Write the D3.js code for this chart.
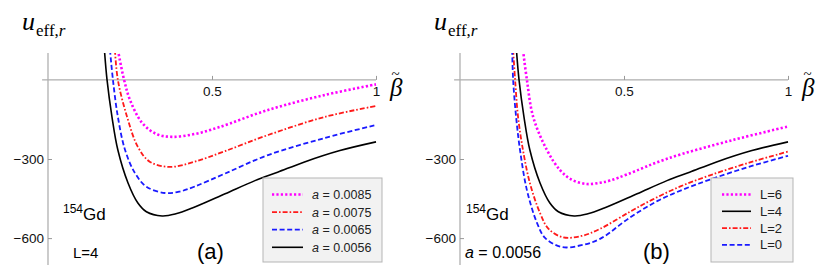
<html>
<head>
<script src="https://d3js.org/d3.v7.min.js"></script>
<style>
  body { margin: 0; background: #fff; }
  text { font-family: "Liberation Sans", Arial, sans-serif; }
  text.serif { font-family: "Liberation Serif", "Times New Roman", serif; }
</style>
</head>
<body>
<script>
// tick values
const xTicks = [0.5, 1];
const yTicks = [-300, -600];

// panel (a): L=4, different a values   [beta, u]
const aCurve0085 = [[0.213,114],[0.232,0],[0.25,-76],[0.287,-163],[0.33,-205],[0.378,-216],[0.448,-205],[0.52,-180],[0.671,-114],[0.845,-57],[1.0,-17]];
const aCurve0075 = [[0.204,114],[0.213,0],[0.241,-140],[0.274,-254],[0.31,-310],[0.372,-330],[0.448,-310],[0.54,-270],[0.671,-209],[0.845,-140],[1.0,-99]];
const aCurve0065 = [[0.189,114],[0.198,0],[0.213,-140],[0.235,-266],[0.265,-353],[0.30,-405],[0.357,-429],[0.40,-424],[0.448,-404],[0.54,-355],[0.671,-285],[0.845,-220],[1.0,-171]];
const aCurve0056 = [[0.172,114],[0.180,0],[0.195,-140],[0.213,-266],[0.244,-391],[0.274,-467],[0.30,-500],[0.348,-516],[0.39,-508],[0.44,-486],[0.54,-432],[0.631,-382],[0.70,-350],[0.78,-312],[0.89,-268],[1.0,-235]];

// panel (b): a=0.0056, different L
const lCurve6 = [[0.192,114],[0.204,0],[0.223,-140],[0.265,-266],[0.305,-342],[0.34,-378],[0.387,-395],[0.427,-390],[0.457,-382],[0.51,-358],[0.631,-299],[0.832,-228],[1.0,-177]];
const lCurve4 = aCurve0056;
const lCurve2 = [[0.162,114],[0.168,0],[0.177,-140],[0.192,-266],[0.213,-391],[0.244,-505],[0.27,-565],[0.314,-597],[0.37,-592],[0.427,-565],[0.518,-500],[0.585,-455],[0.67,-405],[0.762,-362],[0.884,-313],[1.0,-272]];
const lCurve0 = [[0.159,114],[0.162,0],[0.171,-140],[0.183,-266],[0.204,-418],[0.235,-543],[0.26,-600],[0.311,-634],[0.37,-627],[0.427,-603],[0.518,-522],[0.604,-458],[0.68,-416],[0.762,-378],[0.88,-330],[1.0,-288]];

const aLabels = ["0.0085", "0.0075", "0.0065", "0.0056"];
const lLabels = ["L=6", "L=4", "L=2", "L=0"];

const styles = {
  magenta: { color: "#ff00ff", width: 2.6, dash: "2.2,2.2" },
  red:     { color: "#ff1a1a", width: 1.8, dash: "5,2,1.6,2" },
  blue:    { color: "#1a1aff", width: 1.8, dash: "5,2.6" },
  black:   { color: "#000000", width: 1.6, dash: null }
};

const svg = d3.select("body").append("svg").attr("width", 830).attr("height", 277);

const y = d3.scaleLinear().domain([-702, 102]).range([265, 53]);

function panel(id, left, right, curves, legend, notes) {
  const x = d3.scaleLinear().domain([0, 1]).range([left, right]);
  const g = svg.append("g");

  // clip so the curves stop at the top of the frame
  svg.append("clipPath").attr("id", "clip" + id)
    .append("rect").attr("x", left - 20).attr("y", y.range()[1])
    .attr("width", right - left + 40).attr("height", y.range()[0] - y.range()[1]);

  // axes lines
  g.append("line").attr("x1", x(-0.018)).attr("x2", x(1)).attr("y1", y(0)).attr("y2", y(0))
    .attr("stroke", "#999").attr("stroke-width", 1);
  g.append("line").attr("x1", x(0)).attr("x2", x(0)).attr("y1", y.range()[1]).attr("y2", y.range()[0])
    .attr("stroke", "#b0b0b0").attr("stroke-width", 1.3);

  const xa = g.append("g").attr("transform", `translate(0,${y(0)})`)
    .call(d3.axisBottom(x).tickValues(xTicks).tickSize(-4).tickPadding(7).tickFormat(d3.format("~g")));
  const ya = g.append("g").attr("transform", `translate(${x(0)},0)`)
    .call(d3.axisLeft(y).tickValues(yTicks).tickSize(-4).tickPadding(4));
  [xa, ya].forEach(a => {
    a.select(".domain").remove();
    a.selectAll("line").attr("stroke", "#999");
    a.selectAll("text").attr("font-size", 13.5).attr("font-family", "Liberation Sans").attr("fill", "#111");
  });

  const line = d3.line().x(d => x(d[0])).y(d => y(d[1])).curve(d3.curveCatmullRom.alpha(0.5));
  const cg = g.append("g").attr("clip-path", `url(#clip${id})`);
  curves.forEach(c => {
    const s = styles[c.style];
    cg.append("path").attr("d", line(c.data)).attr("fill", "none")
      .attr("stroke", s.color).attr("stroke-width", s.width)
      .attr("stroke-dasharray", s.dash);
  });

  // axis titles
  const ut = g.append("text").attr("class", "serif").attr("x", left - 26).attr("y", 30);
  ut.append("tspan").attr("font-style", "italic").attr("font-size", 26).text("u");
  ut.append("tspan").attr("font-size", 17).attr("dy", 6).attr("dx", 1).text("eff,");
  ut.append("tspan").attr("font-size", 17).attr("font-style", "italic").text("r");
  const bt = g.append("text").attr("class", "serif").attr("x", right + 14).attr("y", 96)
    .attr("font-style", "italic").attr("font-size", 25);
  bt.append("tspan").text("β");
  bt.append("tspan").attr("font-size", 15).attr("font-style", "normal").attr("dx", -11).attr("dy", -17).text("~");

  // legend
  const lg = g.append("g");
  lg.append("rect").attr("x", legend.x).attr("y", 178).attr("width", legend.w).attr("height", 84)
    .attr("fill", "#f2f2f2").attr("stroke", "#b5b5b5").attr("stroke-width", 1);
  legend.items.forEach((it, i) => {
    const s = styles[it.style];
    const ly = 194.5 + i * legend.step;
    lg.append("line").attr("x1", legend.x + legend.l0).attr("x2", legend.x + legend.l1)
      .attr("y1", ly).attr("y2", ly)
      .attr("stroke", s.color).attr("stroke-width", s.width).attr("stroke-dasharray", s.dash);
    const t = lg.append("text").attr("x", legend.x + legend.tx).attr("y", ly + 4.5)
      .attr("font-size", legend.fs).attr("fill", "#222");
    if (it.a) {
      t.append("tspan").attr("font-style", "italic").text("a");
      t.append("tspan").text(" = " + it.label);
    } else t.text(it.label);
  });

  // notes
  const gd = g.append("text").attr("x", notes.gdx).attr("y", 220).attr("font-size", 17);
  gd.append("tspan").attr("font-size", 12).attr("dy", -7).text("154");
  gd.append("tspan").attr("dy", 7).text("Gd");
  const n = g.append("text").attr("x", notes.nx).attr("y", 258).attr("font-size", notes.nfs);
  if (notes.italicA) {
    n.append("tspan").attr("font-style", "italic").text("a");
    n.append("tspan").text(" = " + notes.text);
  } else n.text(notes.text);
  g.append("text").attr("x", notes.px).attr("y", 259).attr("font-size", 22).text(notes.tag);
}

panel("a", 48, 376,
  [{ data: aCurve0085, style: "magenta" }, { data: aCurve0075, style: "red" },
   { data: aCurve0065, style: "blue" }, { data: aCurve0056, style: "black" }],
  { x: 263, w: 119, step: 17.6, l0: 9, l1: 40, tx: 49, fs: 12.5,
    items: aLabels.map((l, i) => ({ label: l, a: true, style: ["magenta", "red", "blue", "black"][i] })) },
  { gdx: 63, nx: 73, nfs: 15, text: "L=4", px: 197, tag: "(a)" });

panel("b", 460, 788,
  [{ data: lCurve6, style: "magenta" }, { data: lCurve2, style: "red" },
   { data: lCurve0, style: "blue" }, { data: lCurve4, style: "black" }],
  { x: 711, w: 82, step: 16.8, l0: 11, l1: 40, tx: 49, fs: 13,
    items: lLabels.map((l, i) => ({ label: l, a: false, style: ["magenta", "black", "red", "blue"][i] })) },
  { gdx: 466, nx: 465, nfs: 16, text: "0.0056", italicA: true, px: 643, tag: "(b)" });
</script>
</body>
</html>
